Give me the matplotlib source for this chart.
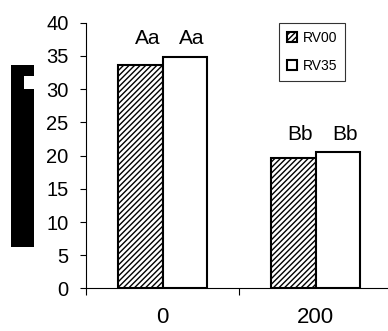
import numpy as np
import matplotlib
matplotlib.use("Agg")
from matplotlib import pyplot as plt
from matplotlib.patches import Rectangle

# dados
categorias = ["0", "200"]
rv00 = [33.7, 19.6]
rv35 = [34.9, 20.5]
letras_rv00 = ["Aa", "Bb"]
letras_rv35 = ["Aa", "Bb"]
series = ["RV00", "RV35"]


def main():
    plt.rcParams["font.family"] = ["Liberation Sans", "DejaVu Sans"]
    plt.rcParams["hatch.linewidth"] = 1.0
    plt.rcParams["hatch.color"] = "#444444"

    fig = plt.figure(figsize=(3.88, 3.31), dpi=100)
    ax = fig.add_axes([86 / 388, 0.1284, 306 / 388, 0.8030])

    x = np.arange(len(categorias))
    w = 0.29
    ax.bar(x - w / 2, rv00, w, facecolor="white", edgecolor="black",
           hatch="//////", linewidth=1.5, label=series[0])
    ax.bar(x + w / 2, rv35, w, facecolor="white", edgecolor="black",
           linewidth=1.5, label=series[1])

    # letras acima das barras (mesma altura dentro do grupo)
    for i in range(len(categorias)):
        topo = max(rv00[i], rv35[i])
        for xb, txt in ((x[i] - w / 2, letras_rv00[i]), (x[i] + w / 2, letras_rv35[i])):
            ax.annotate(txt, (xb, topo), xytext=(5, 6), textcoords="offset points",
                        ha="center", va="bottom", fontsize=15)

    ax.set_xlim(-0.5, 1.5)
    ax.set_ylim(0, 40)
    ax.set_yticks(np.arange(0, 41, 5))
    ax.set_xticks(x)
    ax.set_xticklabels(categorias)
    ax.set_xticks([-0.5, 0.5, 1.5], minor=True)
    ax.tick_params(axis="x", which="major", length=0, pad=13, labelsize=16)
    ax.tick_params(axis="x", which="minor", length=5, direction="out", width=0.8)
    ax.tick_params(axis="y", length=4.5, direction="out", width=0.8, pad=8, labelsize=14.5)

    for s in ("top", "right"):
        ax.spines[s].set_visible(False)
    ax.spines["left"].set_linewidth(0.8)
    ax.spines["bottom"].set_linewidth(0.8)

    leg = ax.legend(loc="upper left", bbox_to_anchor=(193 / 306, 1.0), fontsize=10,
                    frameon=True, fancybox=False, edgecolor="black", borderaxespad=0,
                    handlelength=0.7, handleheight=0.7, handletextpad=0.4,
                    borderpad=0.6, labelspacing=1.0)
    leg.get_frame().set_linewidth(0.8)

    # bloco preto a esquerda (titulo do eixo borrado)
    fig.patches.append(Rectangle((0.0291, 0.2547), 0.0577, 0.549,
                                 transform=fig.transFigure, facecolor="black",
                                 edgecolor="none"))
    fig.patches.append(Rectangle((0.0619, 0.731), 0.025, 0.0393,
                                 transform=fig.transFigure, facecolor="white",
                                 edgecolor="none"))

    fig.savefig("out.png", dpi=100)


if __name__ == "__main__":
    main()
